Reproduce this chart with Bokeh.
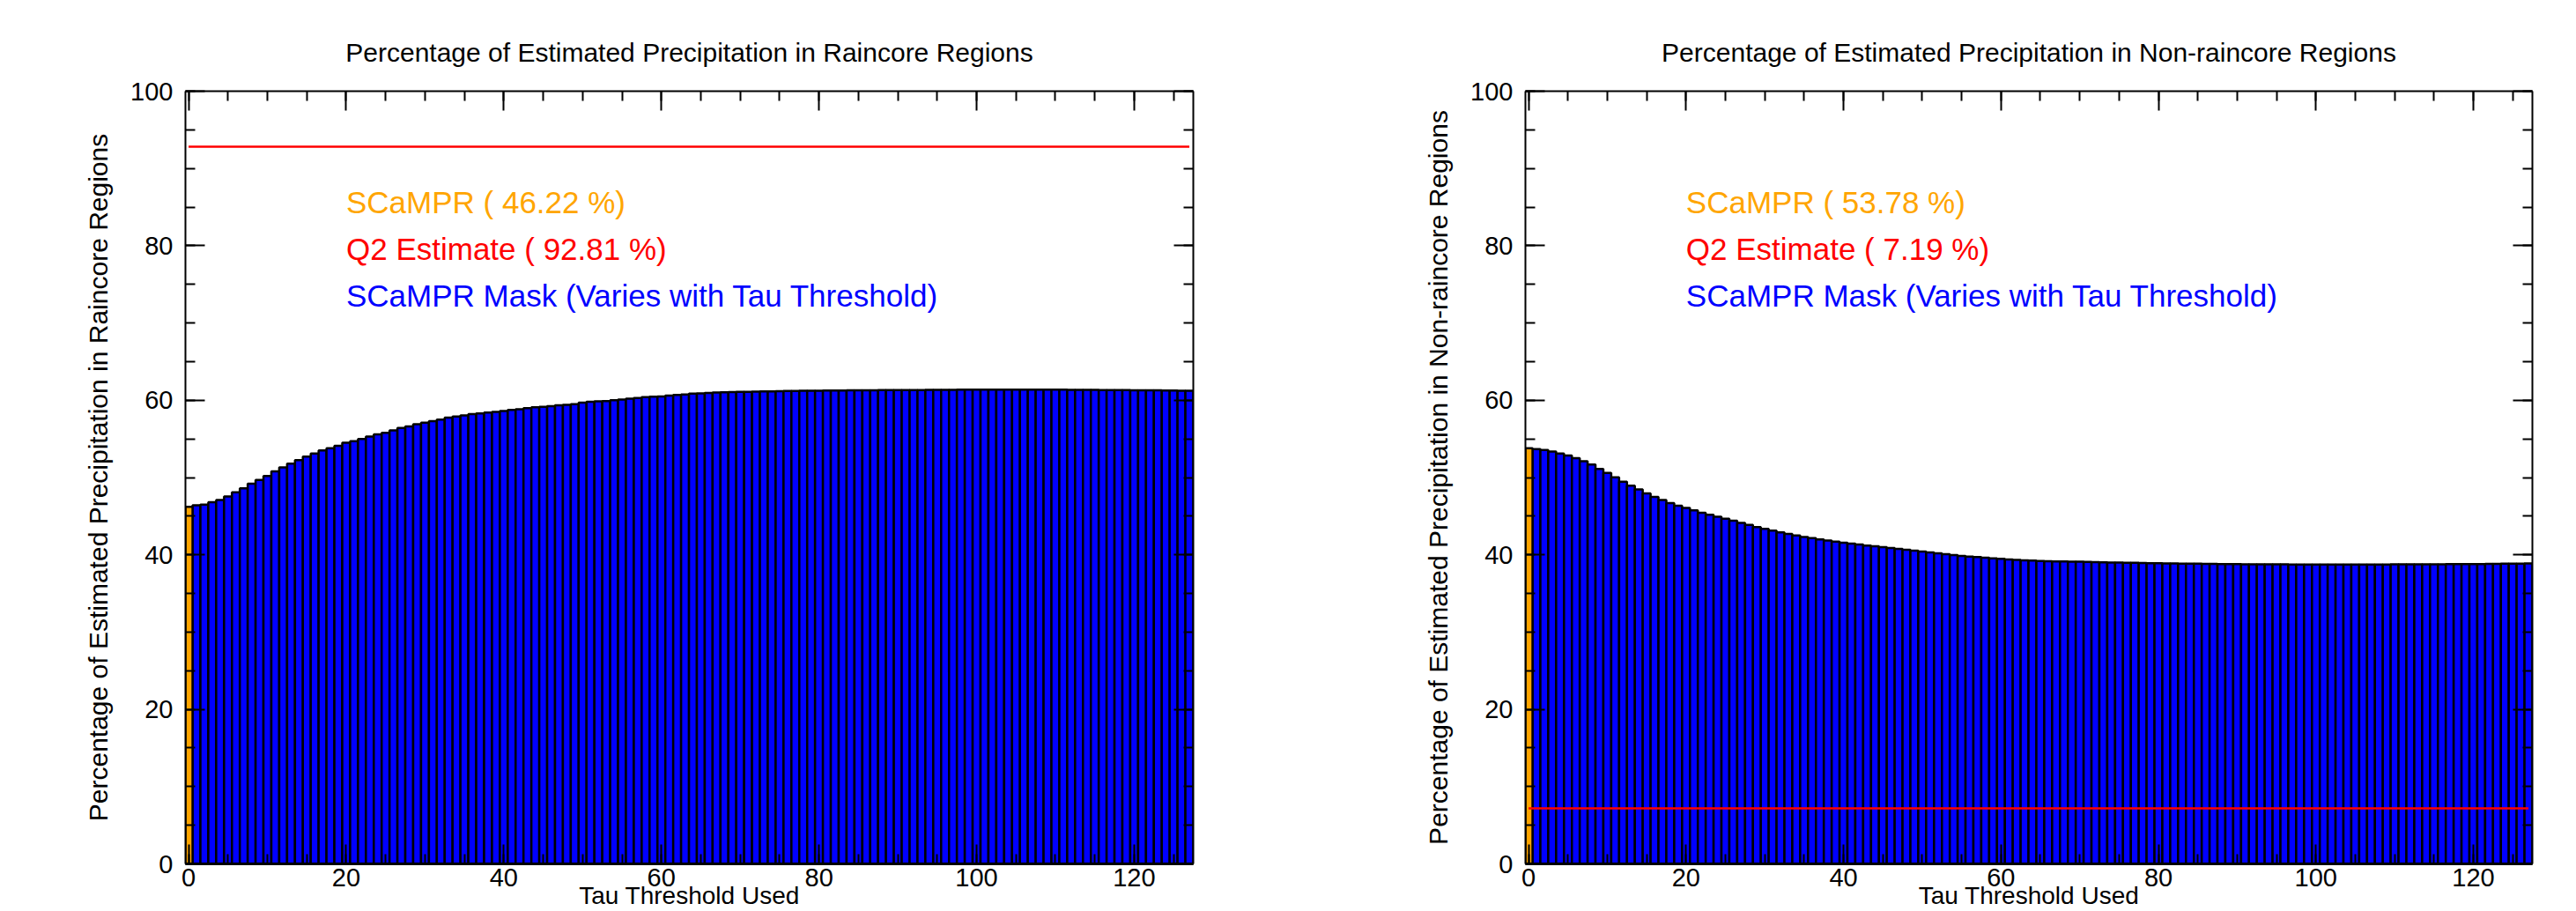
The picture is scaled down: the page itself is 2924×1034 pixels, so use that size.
from bokeh.plotting import figure
from bokeh.layouts import row
from bokeh.models import Range1d, LinearAxis, SingleIntervalTicker, CustomJSTickFormatter
from bokeh.core.properties import value
from bokeh.embed import file_html
from bokeh.resources import INLINE

# ---------------- data ----------------
thresholds = list(range(0, 128))          # tau thresholds (0 = SCaMPR reference bar)
mask_thresholds = thresholds[1:]

raincore_scampr = 46.22
raincore_q2 = 92.81
raincore_mask = [
    46.4, 46.5, 46.8, 47.1, 47.55, 48.1, 48.6, 49.2, 49.7, 50.2,
    50.8, 51.3, 51.8, 52.25, 52.7, 53.1, 53.5, 53.8, 54.1, 54.5,
    54.7, 55.0, 55.3, 55.6, 55.8, 56.1, 56.4, 56.6, 56.9, 57.1,
    57.3, 57.5, 57.75, 57.9, 58.05, 58.2, 58.3, 58.4, 58.5, 58.6,
    58.75, 58.85, 58.97, 59.1, 59.15, 59.25, 59.35, 59.4, 59.5, 59.7,
    59.8, 59.85, 59.9, 60.0, 60.1, 60.2, 60.3, 60.4, 60.45, 60.5,
    60.6, 60.7, 60.75, 60.85, 60.9, 60.95, 61.0, 61.03, 61.06, 61.08,
    61.1, 61.12, 61.14, 61.16, 61.18, 61.2, 61.21, 61.22, 61.23, 61.24,
    61.25, 61.26, 61.27, 61.28, 61.29, 61.3, 61.3, 61.31, 61.31, 61.32,
    61.32, 61.33, 61.33, 61.34, 61.34, 61.35, 61.35, 61.36, 61.36, 61.37,
    61.37, 61.37, 61.38, 61.38, 61.38, 61.38, 61.37, 61.37, 61.37, 61.36,
    61.36, 61.35, 61.35, 61.34, 61.34, 61.33, 61.33, 61.32, 61.31, 61.3,
    61.3, 61.29, 61.28, 61.27, 61.25, 61.23, 61.22,
]

nonraincore_scampr = 53.78
nonraincore_q2 = 7.19
nonraincore_mask = [
    53.67, 53.56, 53.37, 53.1, 52.84, 52.5, 52.12, 51.67, 51.1, 50.6,
    50.04, 49.47, 48.94, 48.45, 47.95, 47.5, 47.08, 46.7, 46.36, 46.06,
    45.76, 45.45, 45.19, 44.92, 44.66, 44.4, 44.13, 43.86, 43.6, 43.37,
    43.14, 42.9, 42.7, 42.5, 42.3, 42.16, 42.0, 41.86, 41.7, 41.55,
    41.44, 41.33, 41.2, 41.1, 41.0, 40.87, 40.76, 40.64, 40.53, 40.42,
    40.3, 40.19, 40.08, 39.96, 39.85, 39.77, 39.7, 39.62, 39.55, 39.47,
    39.4, 39.35, 39.28, 39.24, 39.2, 39.17, 39.15, 39.13, 39.12, 39.1,
    39.08, 39.05, 39.03, 39.0, 38.99, 38.98, 38.96, 38.94, 38.92, 38.9,
    38.88, 38.87, 38.86, 38.85, 38.84, 38.83, 38.82, 38.81, 38.8, 38.79,
    38.78, 38.78, 38.77, 38.77, 38.76, 38.76, 38.75, 38.75, 38.75, 38.75,
    38.74, 38.74, 38.74, 38.74, 38.74, 38.75, 38.75, 38.75, 38.75, 38.76,
    38.76, 38.76, 38.77, 38.77, 38.78, 38.78, 38.79, 38.79, 38.8, 38.8,
    38.81, 38.82, 38.83, 38.84, 38.85, 38.86, 38.87,
]

assert len(raincore_mask) == len(mask_thresholds)
assert len(nonraincore_mask) == len(mask_thresholds)

# ---------------- style ----------------
FONT = "Liberation Sans"
ORANGE = "#FFA500"
RED = "#FF0000"
BLUE = "#0000FF"
H = 1034
LABEL_X = 20
LABEL_Y = [85.6, 79.6, 73.6]


def make_ticker():
    return SingleIntervalTicker(interval=20, num_minor_ticks=4)


def style_axis(ax, labels=True):
    ax.axis_line_color = "black"
    ax.axis_line_width = 2
    ax.major_tick_in = 22
    ax.major_tick_out = 0
    ax.minor_tick_in = 11
    ax.minor_tick_out = 0
    ax.major_tick_line_color = "black"
    ax.major_tick_line_width = 2
    ax.minor_tick_line_color = "black"
    ax.minor_tick_line_width = 2
    ax.major_label_text_font = FONT
    ax.major_label_text_font_size = "29px"
    ax.major_label_text_color = "black"
    ax.axis_label_text_font = FONT
    ax.axis_label_text_font_size = "30px"
    ax.axis_label_text_font_style = "normal"
    ax.axis_label_text_color = "black"
    if not labels:
        ax.formatter = CustomJSTickFormatter(code="return ''")
        ax.major_label_standoff = 0


def make_panel(title, ylabel, scampr, q2, mask, width, border_left, border_right):
    p = figure(width=width, height=H,
               x_range=Range1d(-0.4, 127.5), y_range=Range1d(0, 100),
               output_backend="svg", toolbar_location=None,
               min_border_left=border_left, min_border_right=border_right,
               min_border_top=103, min_border_bottom=0)
    p.background_fill_color = "white"
    p.border_fill_color = "white"
    p.outline_line_color = None
    p.xgrid.visible = False
    p.ygrid.visible = False

    p.title.text = title
    p.title.align = "center"
    p.title.text_font = FONT
    p.title.text_font_size = "30px"
    p.title.text_font_style = "normal"
    p.title.text_color = "black"
    p.title.standoff = 56

    # bars
    p.vbar(x=mask_thresholds, top=mask, bottom=0, width=1.0,
           fill_color=BLUE, line_color="black", line_width=2.5)
    p.vbar(x=[thresholds[0]], top=[scampr], bottom=0, width=1.0,
           fill_color=ORANGE, line_color="black", line_width=2.5)
    # Q2 reference line
    p.line(x=[thresholds[0], thresholds[-1]], y=[q2, q2],
           line_color=RED, line_width=2.5)

    # annotation texts
    texts = [f"SCaMPR ( {scampr:.2f} %)",
             f"Q2 Estimate ( {q2:.2f} %)",
             "SCaMPR Mask (Varies with Tau Threshold)"]
    p.text(x=[LABEL_X] * 3, y=LABEL_Y, text=texts,
           text_color=[ORANGE, RED, BLUE],
           text_font=value(FONT), text_font_size="35px",
           text_align="left", text_baseline="alphabetic")

    # axes
    p.xaxis.ticker = make_ticker()
    p.yaxis.ticker = make_ticker()
    p.xaxis.axis_label = "Tau Threshold Used"
    p.yaxis.axis_label = ylabel
    for ax in p.xaxis:
        style_axis(ax)
        ax.axis_line_width = 3
        ax.major_label_standoff = 5
        ax.axis_label_standoff = -8
        ax.axis_label_text_font_size = "28px"
    for ax in p.yaxis:
        style_axis(ax)
        ax.major_label_standoff = 14
        ax.axis_label_standoff = 17

    top_ax = LinearAxis(ticker=make_ticker())
    style_axis(top_ax, labels=False)
    p.add_layout(top_ax, "above")
    right_ax = LinearAxis(ticker=make_ticker())
    style_axis(right_ax, labels=False)
    p.add_layout(right_ax, "right")
    return p


p1 = make_panel("Percentage of Estimated Precipitation in Raincore Regions",
                "Percentage of Estimated Precipitation in Raincore Regions",
                raincore_scampr, raincore_q2, raincore_mask,
                width=1462, border_left=210, border_right=108)
p2 = make_panel("Percentage of Estimated Precipitation in Non-raincore Regions",
                "Percentage of Estimated Precipitation in Non-raincore Regions",
                nonraincore_scampr, nonraincore_q2, nonraincore_mask,
                width=1462, border_left=269, border_right=50)

layout = row(p1, p2)
open("out.html", "w").write(file_html(layout, INLINE))
